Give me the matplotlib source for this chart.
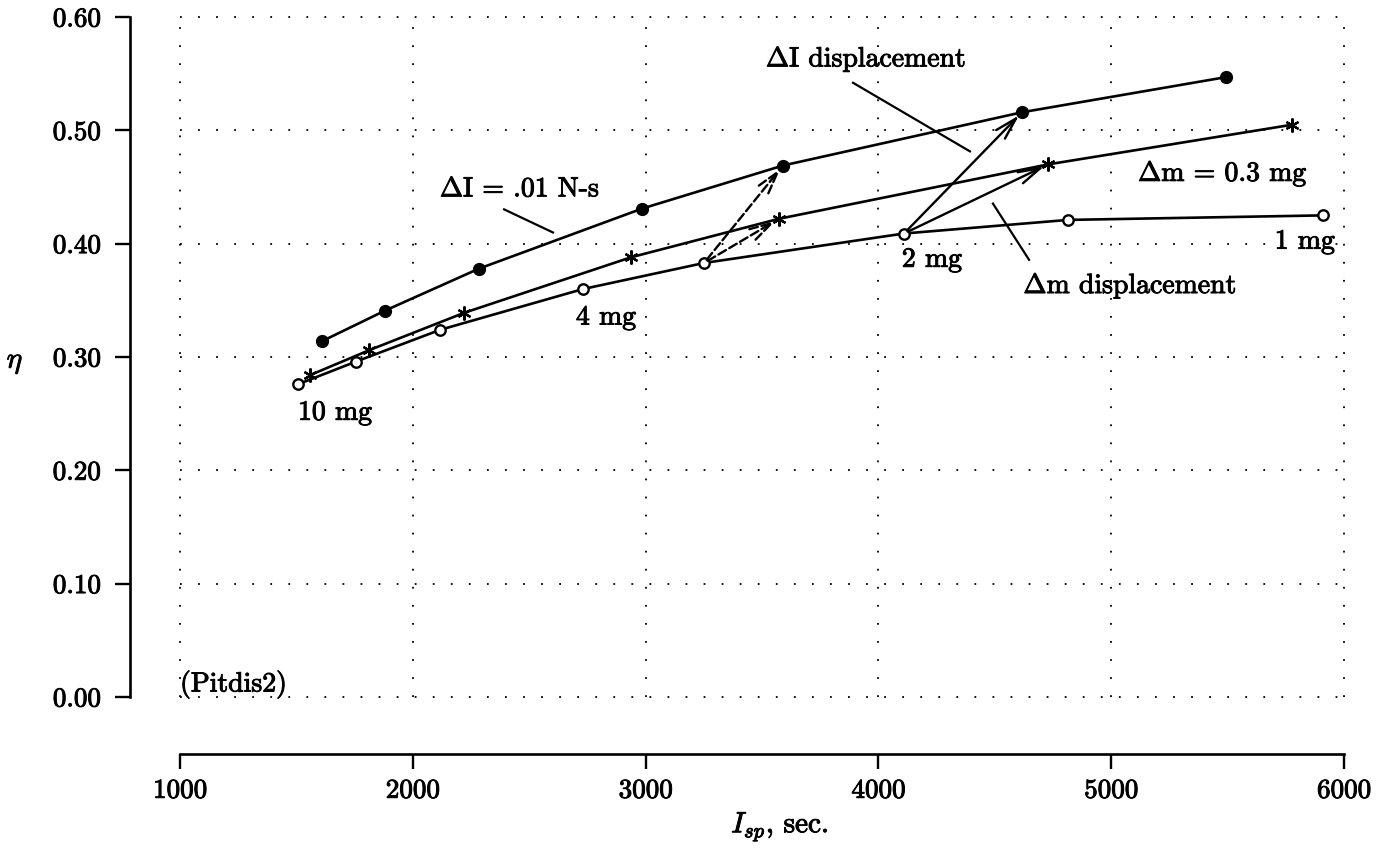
import matplotlib.pyplot as plt
import matplotlib.patheffects as pe
import numpy as np

plt.rcParams['font.family'] = 'cmr10'
plt.rcParams['mathtext.fontset'] = 'cm'
plt.rcParams['axes.formatter.use_mathtext'] = True
plt.rcParams['axes.unicode_minus'] = False

# curves (Isp [s], eta)
isp_dI = [1610, 1881, 2284, 2985, 3590, 4617, 5493]
eta_dI = [0.314, 0.341, 0.378, 0.431, 0.469, 0.516, 0.547]
isp_dm = [1558, 1812, 2220, 2937, 3573, 4729, 5777]
eta_dm = [0.284, 0.306, 0.339, 0.388, 0.422, 0.470, 0.505]
isp_base = [1507, 1756, 2117, 2731, 3251, 4110, 4814, 5910]
eta_base = [0.276, 0.296, 0.324, 0.360, 0.383, 0.409, 0.421, 0.425]

mass_labels = ['10 mg', '4 mg', '2 mg', '1 mg']
mass_pos = [(1666, 0.251), (2830, 0.335), (4230, 0.386), (5832, 0.402)]

xticks = [1000, 2000, 3000, 4000, 5000, 6000]
yticks = [0.0, 0.1, 0.2, 0.3, 0.4, 0.5, 0.6]
ytick_labels = ['0.00', '0.10', '0.20', '0.30', '0.40', '0.50', '0.60']

# slight stroke so the text looks as heavy as the scan
heavy = [pe.withStroke(linewidth=0.7, foreground='k')]

fig = plt.figure(figsize=(13.92, 8.61), dpi=100)
ax = fig.add_axes([130/1392, 1 - 754/861, 1221/1392, 746/861])
ax.set_xlim(785, 6030)
ax.set_ylim(-0.0503, 0.608)

dot = (0, (1, 9))
ax.hlines(yticks, xticks[0], xticks[-1], colors='k', lw=1.3, linestyles=[dot], zorder=0)
ax.vlines(xticks, yticks[0], yticks[-1], colors='k', lw=1.3, linestyles=[dot], zorder=0)

lw = 1.9
ax.plot(isp_dI, eta_dI, '-', color='k', lw=lw, marker='o', ms=8.5, mfc='k', mec='k')
ax.plot(isp_dm, eta_dm, '-', color='k', lw=lw, marker=(6, 2, 0), ms=10, mew=1.6, mec='k')
ax.plot(isp_base, eta_base, '-', color='k', lw=lw, marker='o', ms=7.5, mfc='white',
        mec='k', mew=1.7)

# displacement arrows
def arrow(i, target_x, target_y, ls):
    ax.annotate('', xy=(target_x, target_y), xytext=(isp_base[i], eta_base[i]),
                arrowprops=dict(arrowstyle='->,head_length=0.8,head_width=0.22',
                                mutation_scale=20, lw=1.7, color='k', ls=ls,
                                shrinkA=3, shrinkB=3))

arrow(5, isp_dI[5], eta_dI[5], '-')
arrow(5, isp_dm[5], eta_dm[5], '-')
arrow(4, isp_dI[4], eta_dI[4], '--')
arrow(4, isp_dm[4], eta_dm[4], '--')

fs = 20
for lab, (x, y) in zip(mass_labels, mass_pos):
    ax.text(x, y, lab, fontsize=fs, ha='center', va='center', path_effects=heavy)

ax.text(3947, 0.563, r'$\Delta$I displacement', fontsize=fs, ha='center', va='center',
        path_effects=heavy)
ax.plot([3891, 4393], [0.542, 0.4815], color='k', lw=1.6)
ax.text(2460, 0.448, r'$\Delta$I = .01 N-s', fontsize=fs, ha='center', va='center',
        path_effects=heavy)
ax.plot([2392, 2602], [0.4303, 0.4099], color='k', lw=1.6)
ax.text(5480, 0.462, r'$\Delta$m = 0.3 mg', fontsize=fs, ha='center', va='center',
        path_effects=heavy)
ax.text(5081, 0.363, r'$\Delta$m displacement', fontsize=fs, ha='center', va='center',
        path_effects=heavy)
ax.plot([4492, 4647], [0.4354, 0.3858], color='k', lw=1.6)
ax.text(1000, 0.0115, '(Pitdis2)', fontsize=fs, ha='left', va='center', path_effects=heavy)

for s in ['top', 'right']:
    ax.spines[s].set_visible(False)
ax.spines['left'].set_bounds(0, 0.6)
ax.spines['bottom'].set_bounds(1000, 6000)
for s in ['left', 'bottom']:
    ax.spines[s].set_linewidth(1.9)

ax.set_xticks(xticks)
ax.set_xticklabels([str(t) for t in xticks])
ax.set_yticks(yticks)
ax.set_yticklabels(ytick_labels)
ax.tick_params(direction='out', length=11, width=1.7, labelsize=19.5)
ax.tick_params(axis='y', pad=10)
ax.tick_params(axis='x', pad=7)
for t in ax.get_xticklabels() + ax.get_yticklabels():
    t.set_path_effects(heavy)

fig.text(15/1392, 1 - 363/861, r'$\eta$', fontsize=21, ha='center', va='center',
         path_effects=heavy)
fig.text(780/1392, 1 - 827/861, r'$I_{sp}$, sec.', fontsize=21, ha='center', va='center',
         path_effects=heavy)

fig.savefig('out.png', dpi=100)
